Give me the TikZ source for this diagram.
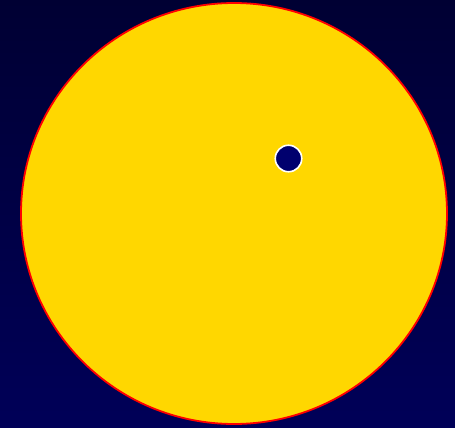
\documentclass[tikz,border=0pt]{standalone}
\usepackage{tikz}
\usetikzlibrary{shapes.geometric}
\definecolor{navytop}{RGB}{0,0,51}
\definecolor{navybottom}{RGB}{0,0,88}
\definecolor{gold}{RGB}{255,215,0}
\definecolor{dotblue}{RGB}{0,0,110}

\begin{document}
\begin{tikzpicture}[x=1pt, y=-1pt, disc/.style={inner sep=0pt}]
	\shade[top color=navytop, bottom color=navybottom] (0,0) rectangle (455,428);
	\useasboundingbox (0,0) rectangle (455,428);
	\node[disc, ellipse, draw=red, line width=1.8pt, fill=gold, minimum width=426pt, minimum height=421pt] (sun) at (234,213.5) {};
	\node[disc, circle, draw=white, line width=1.6pt, fill=dotblue, minimum size=26.5pt] (dot) at (288.5,158.5) {};
\end{tikzpicture}
\end{document}
